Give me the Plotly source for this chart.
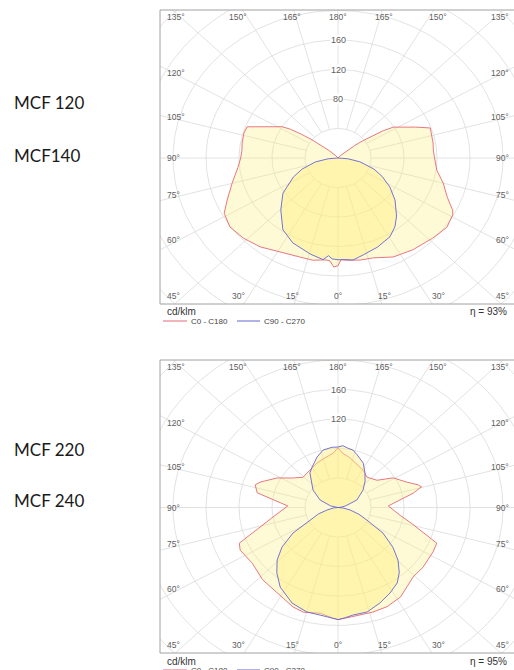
import numpy as np
import plotly.graph_objects as go

# ---------------- data ----------------
labels_chart1 = ["MCF 120", "MCF140"]
labels_chart2 = ["MCF 220", "MCF 240"]
efficiency = ["η = 93%", "η = 95%"]
unit_label = "cd/klm"
series_names = ["C0 - C180", "C90 - C270"]
ring_values = [40, 80, 120, 160, 200, 240, 280]
ring_labels_chart1 = [80, 120, 160]
ring_labels_chart2 = [120, 160]
angle_top = ["135°", "150°", "165°", "180°", "165°", "150°", "135°"]
angle_side = ["120°", "105°", "90°", "75°", "60°"]
angle_bottom = ["45°", "30°", "15°", "0°", "15°", "30°", "45°"]

# Chart 1 (MCF 120 / MCF140): gamma in degrees (0 = down), intensity in cd/klm
c1_red_right_gamma = [0, 1.5, 4.5, 11, 17.5, 26.5, 36, 46.5, 54.5, 61, 63, 68, 75, 82, 90, 95, 100, 105, 110, 114, 118, 122, 124, 126, 128, 130, 133, 137, 142, 180]
c1_red_right_I = [146, 138, 139, 141, 142, 150, 154, 158, 162, 159, 156, 143, 132, 121, 117, 116, 117, 118, 119, 103, 90, 79, 66, 52, 38, 26, 14, 5, 0, 0]
c1_red_left_gamma = [0, 2, 4, 6, 12.5, 19, 29, 38, 46.5, 54.5, 61.5, 67, 75, 84, 90, 95, 100, 106.5, 111, 114, 118, 122, 124, 126, 128, 130, 133, 137, 142, 180]
c1_red_left_I = [146, 148, 140, 139, 142, 142, 146, 153, 158, 161, 157, 146, 133, 122, 118, 117, 118, 119, 118, 103, 90, 80, 70, 55, 40, 28, 15, 5, 0, 0]
c1_blue_right_gamma = [0, 3, 7.5, 13, 21.5, 30.5, 36.5, 42, 50.5, 58, 65, 71, 79, 85, 90]
c1_blue_right_I = [138, 138, 139.5, 135, 130, 124, 116, 106, 89.5, 74, 59, 46, 27, 12, 0]
c1_blue_left_gamma = [0, 3, 5, 7.5, 14.5, 25.5, 34.5, 44.5, 54.5, 64.5, 71, 79, 85, 90]
c1_blue_left_I = [138, 137, 133, 139, 134.5, 127.5, 118, 99, 82, 60, 46, 28, 12, 0]

# Chart 2 (MCF 220 / MCF 240)
c2_red_right_gamma = [0, 4, 10.5, 16.5, 24, 32, 38, 44, 52, 62.5, 68, 71.5, 76, 82, 92, 99, 102, 105.5, 107.5, 112.5, 121, 128, 134, 139.5, 149, 157, 168, 176, 180]
c2_red_right_I = [152, 150, 148, 148, 147, 143, 136, 131, 131, 130, 129, 111, 93, 76, 61, 80, 93, 105, 102, 90, 78, 60, 56, 54, 59, 62, 69, 74, 81]
c2_red_left_gamma = [0, 2.5, 8.5, 16.5, 22, 32.5, 43, 54, 64, 68, 71.5, 76, 82, 92, 97.5, 101.5, 107, 110, 118.5, 126, 134, 146, 157, 166.5, 175.5, 180]
c2_red_left_I = [152, 150, 145, 148, 145.5, 137.5, 134, 128.5, 132, 129, 111, 93, 77, 61, 79, 100, 105, 100.5, 84, 68, 59, 61, 65.5, 69, 74, 81]
c2_blue_right_gamma = [0, 3, 7, 14, 21.5, 28.5, 35, 40, 45.5, 51, 57.5, 64, 70, 77, 84, 90, 96, 103, 114, 128, 137, 145, 153, 162, 167, 172, 176, 180]
c2_blue_right_I = [152, 150, 147, 146, 139, 132, 125, 115.5, 102, 85.5, 64.6, 39, 27, 15, 6, 0, 4, 9, 25, 38.5, 48, 57, 67.5, 75, 80, 81.5, 84, 82]
c2_blue_left_gamma = [0, 2.3, 7, 15, 23.3, 33, 40, 46, 51.7, 57.6, 63.4, 70, 75.7, 84, 90, 96, 103, 115, 128, 144, 150, 159.6, 167, 175, 180]
c2_blue_left_I = [152, 150, 148, 146.6, 141, 128.7, 115.5, 102.6, 86.5, 64.6, 38, 25, 13.7, 5, 0, 4, 9, 24, 38.5, 58, 63, 73, 80, 82, 82]

# ---------------- styling / layout constants ----------------
W, H = 514, 670
RED = "rgb(228,104,116)"
BLUE = "rgb(100,100,214)"
RED_FILL = "rgba(255,238,120,0.30)"
BLUE_FILL = "rgba(255,238,120,0.42)"
GRID = "#dadada"
BORDER = "#a0a0a0"
LABEL_GRAY = "#5e5e5e"
FONT = "Liberation Sans, Arial, sans-serif"

X_RANGE = [-215.8, 213.3]
X_DOMAIN = [160 / W, 1.0]


def px(x):
    return x / W


def py(y):
    return 1 - y / H


charts = [
    dict(xa="x", ya="y", yrange=[-198, 200.7], top=10, bottom=304,
         red=(c1_red_left_gamma, c1_red_left_I, c1_red_right_gamma, c1_red_right_I),
         blue=(c1_blue_left_gamma, c1_blue_left_I, c1_blue_right_gamma, c1_blue_right_I),
         rings=ring_labels_chart1, eff=efficiency[0], names=labels_chart1, name_y=[103, 156]),
    dict(xa="x2", ya="y2", yrange=[-197.3, 200], top=360, bottom=653,
         red=(c2_red_left_gamma, c2_red_left_I, c2_red_right_gamma, c2_red_right_I),
         blue=(c2_blue_left_gamma, c2_blue_left_I, c2_blue_right_gamma, c2_blue_right_I),
         rings=ring_labels_chart2, eff=efficiency[1], names=labels_chart2, name_y=[449, 500]),
]


def outline(gl, il, gr, ir):
    gl = np.radians(np.array(gl, float))
    gr = np.radians(np.array(gr, float))
    il = np.array(il, float)
    ir = np.array(ir, float)
    xl = (-il * np.sin(gl))[::-1]
    yl = (-il * np.cos(gl))[::-1]
    xr = ir * np.sin(gr)
    yr = -ir * np.cos(gr)
    xs = np.concatenate([xl, xr, xl[:1]])
    ys = np.concatenate([yl, yr, yl[:1]])
    return xs, ys


fig = go.Figure()
annotations = []
shapes = []

for ci, ch in enumerate(charts):
    xa, ya = ch["xa"], ch["ya"]
    # rings
    th = np.linspace(0, 2 * np.pi, 361)
    rx, ry = [], []
    for r in ring_values:
        rx += list(r * np.cos(th)) + [None]
        ry += list(r * np.sin(th)) + [None]
    fig.add_trace(go.Scatter(x=rx, y=ry, mode="lines", line=dict(color=GRID, width=0.8),
                             hoverinfo="skip", showlegend=False, xaxis=xa, yaxis=ya))
    # spokes
    sx, sy = [], []
    for a in range(0, 360, 15):
        t = np.radians(a)
        sx += [40 * np.sin(t), 320 * np.sin(t), None]
        sy += [40 * np.cos(t), 320 * np.cos(t), None]
    fig.add_trace(go.Scatter(x=sx, y=sy, mode="lines", line=dict(color=GRID, width=0.8),
                             hoverinfo="skip", showlegend=False, xaxis=xa, yaxis=ya))
    # curves
    xs, ys = outline(*ch["red"])
    fig.add_trace(go.Scatter(x=xs, y=ys, mode="lines", fill="toself", fillcolor=RED_FILL,
                             line=dict(color=RED, width=0.9), name=series_names[0],
                             showlegend=False, xaxis=xa, yaxis=ya))
    xs, ys = outline(*ch["blue"])
    fig.add_trace(go.Scatter(x=xs, y=ys, mode="lines", fill="toself", fillcolor=BLUE_FILL,
                             line=dict(color=BLUE, width=0.9), name=series_names[1],
                             showlegend=False, xaxis=xa, yaxis=ya))

    # ring labels
    for rv in ch["rings"]:
        annotations.append(dict(x=0, y=rv, xref=xa, yref=ya, text=str(rv), showarrow=False,
                                font=dict(family=FONT, size=9, color=LABEL_GRAY),
                                bgcolor="white", borderpad=0))
    # angle labels
    top_x = [-209.7, -121.2, -55.8, 0, 55.8, 121.2, 209.7]
    anchors = ["left", "center", "center", "center", "center", "center", "right"]
    lf = dict(family=FONT, size=8.5, color=LABEL_GRAY)
    for txt, xv, anc in zip(angle_top, top_x, anchors):
        annotations.append(dict(x=xv, y=191, xref=xa, yref=ya, text=txt, showarrow=False,
                                xanchor=anc, font=lf))
    for txt, xv, anc in zip(angle_bottom, top_x, anchors):
        annotations.append(dict(x=xv, y=-187, xref=xa, yref=ya, text=txt, showarrow=False,
                                xanchor=anc, font=lf))
    side_y = [115, 55, 0, -50, -111]
    for txt, yv in zip(angle_side, side_y):
        annotations.append(dict(x=-209.7, y=yv, xref=xa, yref=ya, text=txt, showarrow=False,
                                xanchor="left", font=lf))
        annotations.append(dict(x=209.7, y=yv, xref=xa, yref=ya, text=txt, showarrow=False,
                                xanchor="right", font=lf))

    # box border (left, top, bottom; right side is cut off by the page)
    top, bottom = ch["top"], ch["bottom"]
    shapes.append(dict(type="line", xref="paper", yref="paper", x0=px(160), x1=px(160),
                       y0=py(top), y1=py(bottom), line=dict(color=BORDER, width=1)))
    shapes.append(dict(type="line", xref="paper", yref="paper", x0=px(160), x1=1.02,
                       y0=py(top), y1=py(top), line=dict(color=BORDER, width=1)))
    shapes.append(dict(type="line", xref="paper", yref="paper", x0=px(160), x1=1.02,
                       y0=py(bottom), y1=py(bottom), line=dict(color=BORDER, width=1)))

    # footer
    annotations.append(dict(x=px(165), y=py(bottom + 8), xref="paper", yref="paper", text=unit_label,
                            showarrow=False, xanchor="left", yanchor="middle",
                            font=dict(family=FONT, size=10, color="#333")))
    annotations.append(dict(x=px(509), y=py(bottom + 8), xref="paper", yref="paper", text=ch["eff"],
                            showarrow=False, xanchor="right", yanchor="middle",
                            font=dict(family=FONT, size=10, color="#333")))
    ly = bottom + 17
    shapes.append(dict(type="line", xref="paper", yref="paper", x0=px(163), x1=px(187),
                       y0=py(ly), y1=py(ly), line=dict(color=RED, width=1)))
    annotations.append(dict(x=px(189), y=py(ly), xref="paper", yref="paper", text=series_names[0],
                            showarrow=False, xanchor="left", yanchor="middle",
                            font=dict(family=FONT, size=8, color="#444")))
    shapes.append(dict(type="line", xref="paper", yref="paper", x0=px(237), x1=px(260),
                       y0=py(ly), y1=py(ly), line=dict(color=BLUE, width=1)))
    annotations.append(dict(x=px(262), y=py(ly), xref="paper", yref="paper", text=series_names[1],
                            showarrow=False, xanchor="left", yanchor="middle",
                            font=dict(family=FONT, size=8, color="#444")))

    # left labels
    for name, yv in zip(ch["names"], ch["name_y"]):
        annotations.append(dict(x=px(12), y=py(yv), xref="paper", yref="paper", text=name,
                                showarrow=False, xanchor="left", yanchor="middle",
                                font=dict(family="Lato, Carlito, sans-serif", size=17, color="#1a1a1a")))

axis_common = dict(visible=False, showgrid=False, zeroline=False, fixedrange=True)
fig.update_layout(
    width=W, height=H,
    margin=dict(l=0, r=0, t=0, b=0, pad=0),
    paper_bgcolor="white", plot_bgcolor="rgba(0,0,0,0)",
    showlegend=False,
    xaxis=dict(range=X_RANGE, domain=X_DOMAIN, anchor="y", **axis_common),
    yaxis=dict(range=charts[0]["yrange"], domain=[py(charts[0]["bottom"]), py(charts[0]["top"])],
               anchor="x", **axis_common),
    xaxis2=dict(range=X_RANGE, domain=X_DOMAIN, anchor="y2", **axis_common),
    yaxis2=dict(range=charts[1]["yrange"], domain=[py(charts[1]["bottom"]), py(charts[1]["top"])],
                anchor="x2", **axis_common),
    annotations=annotations,
    shapes=shapes,
)

fig.write_html("out.html", config={"displayModeBar": False},
               post_script="document.body.style.margin='0';document.body.style.overflow='hidden';")
